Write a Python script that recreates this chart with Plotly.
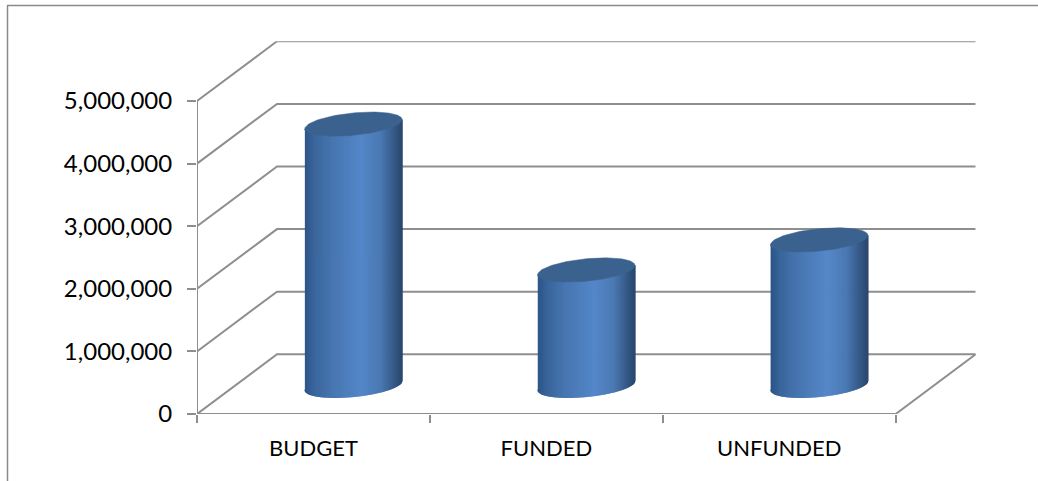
import numpy as np
import plotly.graph_objects as go

# ---- data ----
categories = ["BUDGET", "FUNDED", "UNFUNDED"]
values = [4170000, 1840000, 2320000]
y_ticks = [0, 1000000, 2000000, 3000000, 4000000, 5000000]
y_labels = ["0", "1,000,000", "2,000,000", "3,000,000", "4,000,000", "5,000,000"]

# ---- scale of the drawing ----
W, H = 1038, 481
PX_PER_CAT = 232.9
PX_PER_UNIT = 62.6 / 1e6
DEPTH_X_PX, DEPTH_Y_PX = 80.0, 59.7
LEFT, BOTTOM = 197.0, 414.0
ux = 1 / PX_PER_CAT
uy = 1 / PX_PER_UNIT
depth_x = DEPTH_X_PX * ux
depth_y = DEPTH_Y_PX * uy
x0, x1 = -0.5, 2.5
y_top = y_ticks[-1]
GRID = "#8e8e8e"

# cylinder look
R_PX, TILT_PX, MINOR_PX = 48.6, 4.6, 11.2
stops = [(0.0, (44, 84, 134)), (0.10, (58, 102, 156)), (0.28, (72, 118, 176)),
         (0.58, (84, 135, 201)), (0.78, (74, 120, 178)), (0.92, (52, 88, 134)), (1.0, (42, 70, 108))]
TOP_COLOR = "#3b628f"
N = 98


def shade(f):
    ps = [s[0] for s in stops]
    c = [np.interp(f, ps, [s[1][k] for s in stops]) for k in range(3)]
    return "rgb(%d,%d,%d)" % tuple(int(round(v)) for v in c)


fig = go.Figure()


def line(xs, ys):
    fig.add_trace(go.Scatter(x=xs, y=ys, mode="lines", line=dict(color=GRID, width=2),
                             hoverinfo="skip", showlegend=False, cliponaxis=False))


# grid: side wall and back wall for each tick
for t in y_ticks:
    line([x0, x0 + depth_x, x1 + depth_x], [t, t + depth_y, t + depth_y])
line([x0, x0], [0, y_top])
line([x0, x1, x1 + depth_x], [0, 0, depth_y])

# cylinders
us = np.linspace(-1, 1, N + 1)


def front(u):
    return (-TILT_PX * u + MINOR_PX * np.sqrt(np.clip(1 - u * u, 0, 1))) * uy


for i, v in enumerate(values):
    cx = i + depth_x / 2
    base = depth_y / 2 - 1.0 * uy
    top = base + v
    for a, b in zip(us[:-1], us[1:]):
        col = shade((a + b + 2) / 4)
        xs = [cx + R_PX * a * ux, cx + R_PX * b * ux, cx + R_PX * b * ux, cx + R_PX * a * ux]
        # y is upward in data: the front of the ellipse sits lower on screen
        ys = [top - front(a), top - front(b), base - front(b), base - front(a)]
        fig.add_trace(go.Scatter(x=xs, y=ys, mode="lines", fill="toself", fillcolor=col,
                                 line=dict(color=col, width=1.4), hoverinfo="skip",
                                 showlegend=False))
    th = np.linspace(0, 2 * np.pi, 121)
    ex = cx + R_PX * np.cos(th) * ux
    ey = top + (TILT_PX * np.cos(th) + MINOR_PX * np.sin(th)) * uy
    fig.add_trace(go.Scatter(x=ex, y=ey, mode="lines", fill="toself", fillcolor=TOP_COLOR,
                             line=dict(color=TOP_COLOR, width=0.5), hoverinfo="skip",
                             showlegend=False, name=categories[i]))

fig.update_layout(
    width=W, height=H,
    margin=dict(l=0, r=0, t=0, b=0, autoexpand=False),
    paper_bgcolor="white", plot_bgcolor="white",
    font=dict(family="Lato", color="black"),
    showlegend=False,
    xaxis=dict(
        domain=[LEFT / W, (LEFT + 3 * PX_PER_CAT + DEPTH_X_PX) / W],
        range=[x0, x1 + depth_x],
        tickmode="array", tickvals=[0, 1, 2], ticktext=categories,
        ticks="", tickfont=dict(size=22), ticklabelstandoff=19,
        showgrid=False, zeroline=False, showline=False, automargin=False,
        minor=dict(tickmode="array", tickvals=[-0.5, 0.5, 1.5, 2.5], ticks="outside",
                   ticklen=8, tickwidth=2, tickcolor=GRID, showgrid=False),
    ),
    yaxis=dict(
        domain=[(H - BOTTOM) / H, (H - BOTTOM + (y_top * PX_PER_UNIT) + DEPTH_Y_PX) / H],
        range=[0, y_top + depth_y],
        tickmode="array", tickvals=y_ticks, ticktext=y_labels,
        ticks="outside", ticklen=9, tickwidth=2, tickcolor=GRID,
        tickfont=dict(size=24), ticklabelstandoff=10,
        showgrid=False, zeroline=False, showline=False, automargin=False,
    ),
    shapes=[
        dict(type="line", xref="paper", yref="paper", x0=7 / W, x1=1, y0=1 - 5.5 / H, y1=1 - 5.5 / H,
             line=dict(color="#8a8a8a", width=1.5)),
        dict(type="line", xref="paper", yref="paper", x0=7.5 / W, x1=7.5 / W, y0=0, y1=1 - 5.5 / H,
             line=dict(color="#8a8a8a", width=1.5)),
    ],
)
fig.write_html("out.html", config=dict(displayModeBar=False),
               post_script="document.body.style.margin='0';document.documentElement.style.overflow='hidden';")
